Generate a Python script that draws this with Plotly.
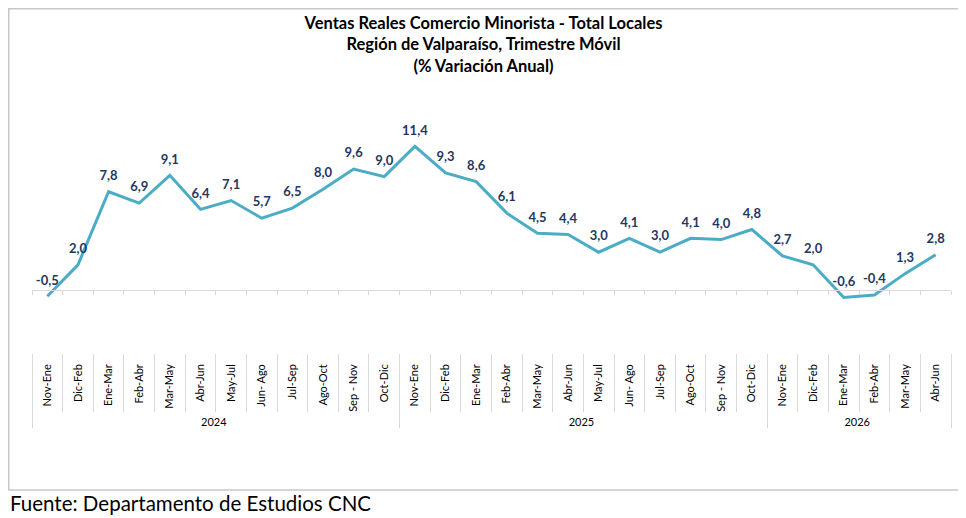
import plotly.graph_objects as go

# trimestre movil, % variacion anual
years = ["2024"] * 12 + ["2025"] * 12 + ["2026"] * 6
periods = [
    "Nov-Ene", "Dic-Feb", "Ene-Mar", "Feb-Abr", "Mar-May", "Abr-Jun",
    "May-Jul", "Jun- Ago", "Jul-Sep", "Ago-Oct", "Sep - Nov", "Oct-Dic",
    "Nov-Ene", "Dic-Feb", "Ene-Mar", "Feb-Abr", "Mar-May", "Abr-Jun",
    "May-Jul", "Jun- Ago", "Jul-Sep", "Ago-Oct", "Sep - Nov", "Oct-Dic",
    "Nov-Ene", "Dic-Feb", "Ene-Mar", "Feb-Abr", "Mar-May", "Abr-Jun",
]
variacion = [
    -0.5, 2.0, 7.8, 6.9, 9.1, 6.4, 7.1, 5.7, 6.5, 8.0, 9.6, 9.0,
    11.4, 9.3, 8.6, 6.1, 4.5, 4.4, 3.0, 4.1, 3.0, 4.1, 4.0, 4.8,
    2.7, 2.0, -0.6, -0.4, 1.3, 2.8,
]
labels = [f"{v:.1f}".replace(".", ",") for v in variacion]

OFF = 8  # default body margin of the html page
W, H = 966 - OFF, 518 - OFF
L, R, T, B = 32 - OFF, 951 - OFF, 130 - OFF, 353 - OFF  # plot area
YMIN, YMAX = -5.0, 12.7
XRANGE = [-0.5, len(variacion) - 0.5]


def px(x):
    # window pixel -> paper x
    return (x - OFF - L) / (R - L)


def py(y):
    # window pixel -> paper y
    return (B - (y - OFF)) / (B - T)


FONT = "Lato, 'Open Sans', sans-serif"
LINE = "#4bacc6"
NAVY = "#1f3864"
GRID = "#d9d9d9"

fig = go.Figure()
fig.add_trace(go.Scatter(
    x=[years, periods], y=variacion, mode="lines+markers+text",
    line=dict(color=LINE, width=3),
    marker=dict(size=12, color="rgba(0,0,0,0)"),
    text=labels, textposition="top center",
    textfont=dict(family=FONT, size=13, color=NAVY, weight="bold"),
    hoverinfo="skip", cliponaxis=False,
))
# copy on a second axis, only to draw the axis line with ticks at zero
fig.add_trace(go.Scatter(
    x=[years, periods], y=variacion, mode="lines", opacity=0,
    xaxis="x2", hoverinfo="skip", showlegend=False,
))

fig.update_layout(
    width=W, height=H, showlegend=False,
    paper_bgcolor="white", plot_bgcolor="white",
    margin=dict(l=L, r=W - R, t=T, b=H - B),
    font=dict(family=FONT, color="#000000"),
    xaxis=dict(
        type="multicategory", range=XRANGE, showgrid=False, showline=False,
        zeroline=False, tickangle=-90, tickfont=dict(size=11, color="#000000"),
        ticks="outside", tickson="boundaries", ticklen=58, tickcolor=GRID,
        ticklabelstandoff=8,
        showdividers=True, dividercolor=GRID, dividerwidth=1,
    ),
    xaxis2=dict(
        type="multicategory", range=XRANGE, overlaying="x", anchor="free",
        position=(0 - YMIN) / (YMAX - YMIN), showticklabels=False,
        showgrid=False, showline=True, linecolor=GRID, linewidth=1,
        ticks="outside", tickson="boundaries", ticklen=4, tickcolor=GRID,
        showdividers=False, zeroline=False,
    ),
    yaxis=dict(range=[YMIN, YMAX], visible=False, fixedrange=True),
    title=dict(
        text="Ventas Reales Comercio Minorista - Total Locales<br>"
             "Región de Valparaíso, Trimestre Móvil<br>(% Variación Anual)",
        x=px(483.5), xref="paper", xanchor="center",
        y=1 - 21 / H, yanchor="top",
        font=dict(family=FONT, size=16.5, color="#000000", weight="bold"),
    ),
    shapes=[dict(
        type="rect", xref="paper", yref="paper",
        x0=px(OFF + 0.75), x1=px(963), y0=py(490), y1=py(OFF + 0.75),
        line=dict(color="#c8c8c8", width=1.5), layer="below",
    )],
    annotations=[dict(
        text="Fuente: Departamento de Estudios CNC", showarrow=False,
        xref="paper", yref="paper", x=px(OFF), y=py(503),
        xanchor="left", yanchor="middle",
        font=dict(family=FONT, size=20.5, color="#000000"),
    )],
)

fig.write_html("out.html")
